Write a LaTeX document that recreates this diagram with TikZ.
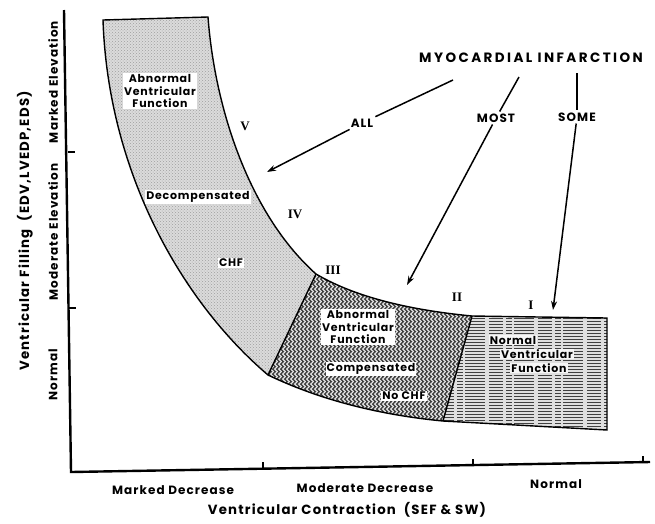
\documentclass[tikz,border=0pt]{standalone}
\usepackage{fontspec}
\setmainfont{Poppins}
\newfontfamily\lsfont{Poppins}[LetterSpace=9]
\newfontfamily\inlsfont{Poppins}[LetterSpace=7]
\newfontfamily\mifont{Poppins}[LetterSpace=18]
\newfontfamily\romfont{Liberation Serif}
\usetikzlibrary{patterns,decorations.pathmorphing,arrows.meta}
\begin{document}
\begin{tikzpicture}[x=1pt,y=-1pt,
  axis/.style={line width=2.4pt},
  tick/.style={line width=1.6pt},
  inlab/.style={font=\inlsfont\bfseries\fontsize{11}{12.5}\selectfont, fill=white, inner sep=1pt, align=center},
  axlab/.style={font=\lsfont\bfseries\fontsize{12}{13}\selectfont, inner sep=0pt},
  titlelab/.style={font=\lsfont\bfseries\fontsize{13.3}{15}\selectfont, inner sep=0pt},
  rom/.style={font=\romfont\bfseries\fontsize{13}{14}\selectfont, inner sep=0pt},
  milab/.style={font=\lsfont\bfseries\fontsize{12}{13}\selectfont, inner sep=2pt},
  conn/.style={line width=1.5pt},
  arr/.style={line width=1.5pt, -{Stealth[length=9pt,width=6pt]}},
  edge/.style={line width=1.4pt}
]
\useasboundingbox (0,0) rectangle (655,523);

% band corner coordinates
\coordinate (TL) at (103,20);
\coordinate (TR) at (208,17);
\coordinate (D1t) at (316,274);
\coordinate (D1b) at (268,375);
\coordinate (D2t) at (472,316);
\coordinate (D2b) at (443,421);
\coordinate (RT) at (607,318);
\coordinate (RB) at (607,430);

% left region (decompensated)
\path[fill=gray!28] (TL) -- (TR) .. controls (215,110) and (250,215) .. (D1t) -- (D1b)
   .. controls (180,300) and (108,170) .. (TL) -- cycle;
\path[pattern=crosshatch dots, pattern color=gray!75] (TL) -- (TR) .. controls (215,110) and (250,215) .. (D1t) -- (D1b)
   .. controls (180,300) and (108,170) .. (TL) -- cycle;

% middle region (compensated) wavy
\begin{scope}
\clip (D1t) .. controls (360,300) and (420,311) .. (D2t) -- (D2b) .. controls (380,415) and (320,400) .. (D1b) -- cycle;
\fill[gray!15] (260,260) rectangle (480,430);
\foreach \xx in {262,266,...,478}
  \draw[black!75, line width=1.3pt, decorate, decoration={snake, amplitude=1.4pt, segment length=5pt}] (\xx,260) -- (\xx,430);
\end{scope}

% right region (normal) lines
\path[fill=gray!25] (D2t) -- (RT) -- (RB) -- (D2b) -- cycle;
\begin{scope}
\clip (D2t) -- (RT) -- (RB) -- (D2b) -- cycle;
\foreach \yy in {318,321,...,432}
  \draw[black!75, line width=0.8pt, dash pattern=on 14pt off 3pt on 6pt off 2pt on 20pt off 4pt] (440,\yy) -- (610,\yy);
\end{scope}

% band outline
\draw[edge] (TL) -- (TR) .. controls (215,110) and (250,215) .. (D1t)
   .. controls (360,300) and (420,311) .. (D2t) -- (RT) -- (RB) -- (D2b)
   .. controls (380,415) and (320,400) .. (D1b) .. controls (180,300) and (108,170) .. (TL) -- cycle;
\draw[edge] (D1t) -- (D1b);
\draw[edge] (D2t) -- (D2b);

% axes
\coordinate (ytop) at (64,10);
\coordinate (orig) at (71,472);
\coordinate (xend) at (650,462);
\draw[axis] (ytop) -- (orig) -- (xend);
\coordinate (yt1) at (68,152); \coordinate (yt1e) at (75,152);
\coordinate (yt2) at (69,308); \coordinate (yt2e) at (76,308);
\draw[tick] (yt1) -- (yt1e);
\draw[tick] (yt2) -- (yt2e);
\coordinate (xt1) at (263,469); \coordinate (xt1e) at (263,462);
\coordinate (xt2) at (473,466); \coordinate (xt2e) at (473,459);
\coordinate (xt3) at (643,463); \coordinate (xt3e) at (643,456);
\draw[tick] (xt1) -- (xt1e);
\draw[tick] (xt2) -- (xt2e);
\draw[tick] (xt3) -- (xt3e);

% axis labels
\node[axlab] (xl1) at (173,490) {Marked Decrease};
\node[axlab] (xl2) at (365,488) {Moderate Decrease};
\node[axlab] (xl3) at (556,484) {Normal};
\node[titlelab] (xt) at (347,510) {Ventricular Contraction\ \ (SEF \& SW)};
\node[axlab, rotate=90] (yl1) at (53,375) {Normal};
\node[axlab, rotate=90] (yl2) at (53,232) {Moderate Elevation};
\node[axlab, rotate=90] (yl3) at (53,82) {Marked Elevation};
\node[titlelab, rotate=90] (yt) at (25,231) {Ventricular Filling\ \ (EDV,LVEDP,EDS)};

% region labels
\node[inlab] (abl) at (160,91) {Abnormal\\Ventricular\\Function};
\node[inlab] (dec) at (198,197) {Decompensated};
\node[inlab] (chf) at (231,263) {CHF};
\node[inlab] (abm) at (358,327) {Abnormal\\Ventricular\\Function};
\node[inlab] (comp) at (371,369) {Compensated};
\node[inlab] (nochf) at (404,396) {No CHF};
\node[inlab, fill=gray!8] (nr1) at (513,340) {Normal};
\node[inlab, fill=gray!8] (nr2) at (537,354) {Ventricular};
\node[inlab, fill=gray!8] (nr3) at (539,368) {Function};

% roman numerals
\node[rom] (r5) at (245,126) {V};
\node[rom] (r4) at (295,214) {IV};
\node[rom] (r3) at (333,270) {III};
\node[rom] (r2) at (457,297) {II};
\node[rom] (r1) at (531,305) {I};

% myocardial infarction
\node[font=\mifont\bfseries\fontsize{13.5}{15}\selectfont, inner sep=1pt] (mi) at (531,58) {MYOCARDIAL INFARCTION};
\node[milab] (all) at (362,123) {ALL};
\node[milab] (most) at (496,118) {MOST};
\node[milab] (some) at (577,117) {SOME};
\coordinate (miA) at (453,80);
\coordinate (miB) at (519,77);
\coordinate (miC) at (577,73);
\coordinate (tipA) at (267,172);
\coordinate (tipB) at (407,285);
\coordinate (tipC) at (553,310);
\draw[conn] (miA) -- (all);
\draw[conn] (miB) -- (most);
\draw[conn] (miC) -- (some);
\draw[arr] (all) -- (tipA);
\draw[arr] (most) -- (tipB);
\draw[arr] (some) -- (tipC);
\end{tikzpicture}
\end{document}
